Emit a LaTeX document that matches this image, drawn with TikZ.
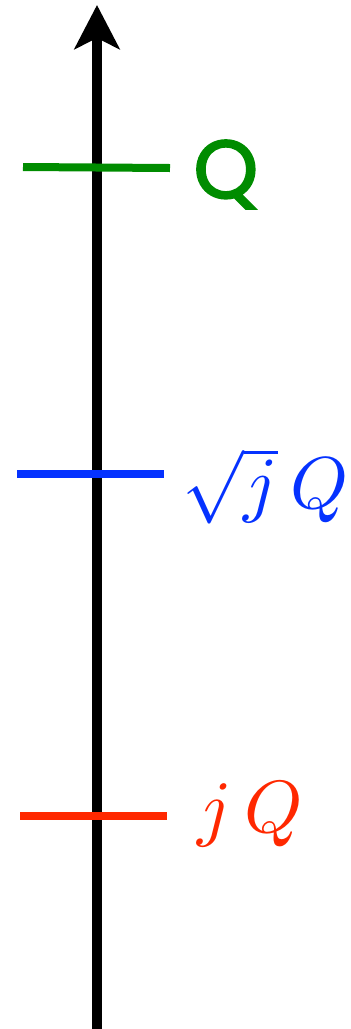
\documentclass[tikz,border=0pt]{standalone}
\usepackage{fontspec}
\newfontfamily\qsans{Poppins}[FakeBold=2.5]
\usetikzlibrary{arrows.meta}
\definecolor{tickgreen}{RGB}{0,140,0}
\definecolor{tickblue}{RGB}{5,50,255}
\definecolor{tickred}{RGB}{255,40,0}
\tikzset{
  axisline/.style={line width=10pt, -{Stealth[length=44pt, width=45pt, inset=11pt]}},
  tickline/.style={line width=8pt},
  lbl/.style={inner sep=0pt, anchor=base west}
}
\begin{document}
\begin{tikzpicture}[x=1pt,y=-1pt]
\useasboundingbox (0,0) rectangle (351,1029);
\coordinate (bot) at (97,1029);
\coordinate (top) at (97,5);
\draw[axisline] (bot) -- (top);
\coordinate (g1) at (23,167); \coordinate (g2) at (170,168);
\coordinate (b1) at (17,474); \coordinate (b2) at (164,474);
\coordinate (r1) at (20,816); \coordinate (r2) at (167,816);
\draw[tickline, tickgreen] (g1) -- (g2);
\draw[tickline, tickblue] (b1) -- (b2);
\draw[tickline, tickred] (r1) -- (r2);
\node[lbl, text=tickgreen, font=\qsans, scale=8.2] (lq) at (192,198) {Q};
\node[lbl, text=tickblue, scale=7.35] (lsq) at (181,508) {$\sqrt{j}\,Q$};
\node[lbl, text=tickred, scale=7.4] (ljq) at (196,832) {$j\,Q$};
\end{tikzpicture}
\end{document}
